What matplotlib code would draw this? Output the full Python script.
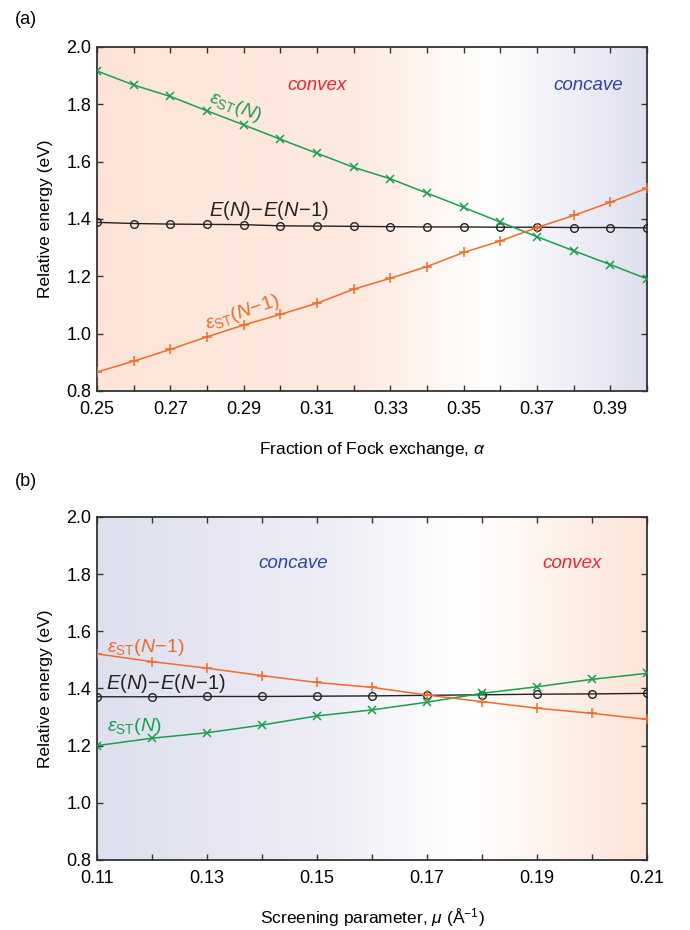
import numpy as np
import matplotlib
matplotlib.use("Agg")
import matplotlib.pyplot as plt
from matplotlib.colors import to_rgb

plt.rcParams['font.family'] = ['Liberation Sans', 'DejaVu Sans']
plt.rcParams['mathtext.fontset'] = 'custom'
plt.rcParams['mathtext.rm'] = 'Liberation Sans'
plt.rcParams['mathtext.it'] = 'Liberation Sans:italic'
plt.rcParams['mathtext.bf'] = 'Liberation Sans:bold'

# ---------------- data ----------------
alpha = [0.25, 0.26, 0.27, 0.28, 0.29, 0.30, 0.31, 0.32, 0.33, 0.34, 0.35, 0.36, 0.37, 0.38, 0.39, 0.40]
a_est_N = [1.916, 1.867, 1.827, 1.777, 1.728, 1.678, 1.629, 1.580, 1.540, 1.490, 1.440, 1.389, 1.338, 1.289, 1.241, 1.191]
a_est_Nm1 = [0.866, 0.904, 0.945, 0.989, 1.030, 1.067, 1.106, 1.155, 1.193, 1.234, 1.283, 1.323, 1.370, 1.412, 1.458, 1.507]
a_dE = [1.388, 1.384, 1.382, 1.381, 1.380, 1.376, 1.375, 1.374, 1.373, 1.372, 1.372, 1.371, 1.371, 1.370, 1.370, 1.369]

mu = [0.11, 0.12, 0.13, 0.14, 0.15, 0.16, 0.17, 0.18, 0.19, 0.20, 0.21]
b_est_N = [1.200, 1.226, 1.245, 1.272, 1.304, 1.325, 1.352, 1.383, 1.406, 1.432, 1.453]
b_est_Nm1 = [1.521, 1.494, 1.471, 1.445, 1.421, 1.404, 1.377, 1.354, 1.331, 1.313, 1.292]
b_dE = [1.371, 1.371, 1.372, 1.372, 1.373, 1.374, 1.376, 1.378, 1.380, 1.381, 1.383]

a_xticks = [0.25, 0.27, 0.29, 0.31, 0.33, 0.35, 0.37, 0.39]
b_xticks = [0.11, 0.13, 0.15, 0.17, 0.19, 0.21]
yticks = [0.8, 1.0, 1.2, 1.4, 1.6, 1.8, 2.0]

GREEN = '#1a9e4f'
ORANGE = '#f26a2a'
BLACK = '#222222'
RED = '#ee2436'
BLUE = '#2b45a3'
SALMON = np.array(to_rgb('#fde4d7'))
LAVENDER = np.array(to_rgb('#dfe0ef'))
WHITE = np.array([1.0, 1.0, 1.0])

fig = plt.figure(figsize=(6.9, 9.3), dpi=100)
ax_a = fig.add_axes([0.1406, 0.5796, 0.797, 0.370])
ax_b = fig.add_axes([0.1406, 0.0753, 0.797, 0.3688])


def gradient(ax, xlim, anchors):
    xs = np.linspace(xlim[0], xlim[1], 600)
    pos = [p for p, c in anchors]
    cols = np.array([c for p, c in anchors])
    img = np.zeros((1, len(xs), 3))
    for k in range(3):
        img[0, :, k] = np.interp(xs, pos, cols[:, k])
    ax.imshow(img, extent=[xlim[0], xlim[1], 0.8, 2.0], aspect='auto',
              origin='lower', zorder=0, interpolation='bilinear')


def style(ax, xlim, xticks, minor):
    ax.set_xlim(*xlim)
    ax.set_ylim(0.8, 2.0)
    ax.set_xticks(xticks)
    ax.set_xticklabels([f'{t:.2f}' for t in xticks])
    ax.set_xticks(minor, minor=True)
    ax.set_yticks(yticks)
    ax.set_yticklabels([f'{t:.1f}' for t in yticks])
    ax.tick_params(which='both', direction='in', top=True, right=True,
                   length=4, width=1.0, labelsize=13, color='#333333', pad=4)
    ax.tick_params(axis='x', which='both', pad=7)
    for s in ax.spines.values():
        s.set_linewidth(1.3)
        s.set_color('#333333')
    ax.set_ylabel('Relative energy (eV)', fontsize=12.5, labelpad=10)


def series(ax, x, g, o, k):
    ax.plot(x, k, color=BLACK, lw=1.0, marker='o', ms=5.5, mfc='none',
            mec=BLACK, mew=1.0, zorder=3)
    ax.plot(x, g, color=GREEN, lw=1.1, marker='x', ms=5.5, mew=1.1, zorder=4)
    ax.plot(x, o, color=ORANGE, lw=1.1, marker='+', ms=6.5, mew=1.1, zorder=4)


# ---------------- panel a ----------------
xa = (0.25, 0.40)
gradient(ax_a, xa, [(0.25, SALMON), (0.32, SALMON * 0.8 + WHITE * 0.2),
                    (0.357, WHITE), (0.40, LAVENDER)])
series(ax_a, alpha, a_est_N, a_est_Nm1, a_dE)
style(ax_a, xa, a_xticks, [0.26, 0.28, 0.30, 0.32, 0.34, 0.36, 0.38, 0.40])
ax_a.set_xlabel(r'Fraction of Fock exchange, $\alpha$', fontsize=12.5, labelpad=16)

ax_a.text(0.2876, 1.79, r'$\varepsilon_{\rm ST}(N)$', color=GREEN, fontsize=14,
          rotation=-21, ha='center', va='center', rotation_mode='anchor')
ax_a.text(0.2806, 1.429, r'$E(N)\!-\!E(N\!-\!1)$', color=BLACK, fontsize=14.5,
          ha='left', va='center')
ax_a.text(0.2897, 1.072, r'$\varepsilon_{\rm ST}(N\!-\!1)$', color=ORANGE, fontsize=14,
          rotation=18.5, ha='center', va='center', rotation_mode='anchor')
ax_a.text(0.310, 1.864, 'convex', color=RED, fontsize=13.5, style='italic',
          ha='center', va='center')
ax_a.text(0.384, 1.864, 'concave', color=BLUE, fontsize=13.5, style='italic',
          ha='center', va='center')

# ---------------- panel b ----------------
xb = (0.11, 0.21)
gradient(ax_b, xb, [(0.11, LAVENDER), (0.15, LAVENDER * 0.6 + WHITE * 0.4),
                    (0.177, WHITE), (0.21, SALMON)])
series(ax_b, mu, b_est_N, b_est_Nm1, b_dE)
style(ax_b, xb, b_xticks, [0.12, 0.14, 0.16, 0.18, 0.20])
ax_b.set_xlabel(r'Screening parameter, $\mu$ (Å$^{-1}$)', fontsize=12.5, labelpad=14)

ax_b.text(0.1118, 1.542, r'$\varepsilon_{\rm ST}(N\!-\!1)$', color=ORANGE, fontsize=14,
          ha='left', va='center')
ax_b.text(0.1117, 1.419, r'$E(N)\!-\!E(N\!-\!1)$', color=BLACK, fontsize=14.5,
          ha='left', va='center')
ax_b.text(0.1118, 1.266, r'$\varepsilon_{\rm ST}(N)$', color=GREEN, fontsize=14,
          ha='left', va='center')
ax_b.text(0.1456, 1.839, 'concave', color=BLUE, fontsize=13.5, style='italic',
          ha='center', va='center')
ax_b.text(0.1964, 1.839, 'convex', color=RED, fontsize=13.5, style='italic',
          ha='center', va='center')

fig.text(0.038, 0.979, '(a)', fontsize=13, ha='center', va='center')
fig.text(0.038, 0.482, '(b)', fontsize=13, ha='center', va='center')

fig.savefig('out.png', dpi=100)
